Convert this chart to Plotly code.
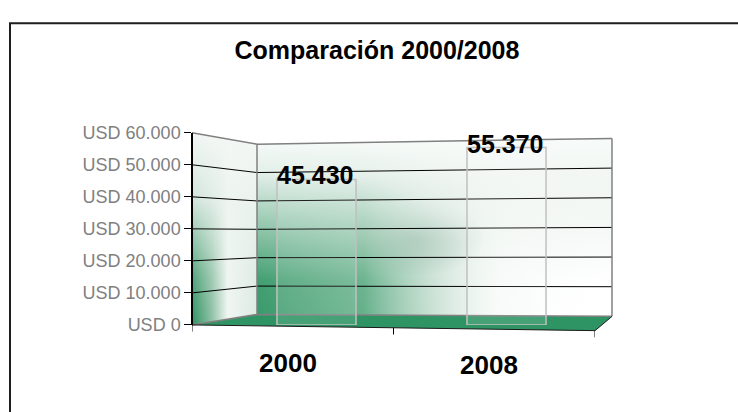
import base64
import plotly.graph_objects as go

# ---------------- data ----------------
years = ["2000", "2008"]
values = [45430, 55370]
tick_vals = [0, 10000, 20000, 30000, 40000, 50000, 60000]
tick_text = ["USD 0", "USD 10.000", "USD 20.000", "USD 30.000",
             "USD 40.000", "USD 50.000", "USD 60.000"]
title_text = "Comparación 2000/2008"

# ---------------- geometry helpers (pixels -> paper) ----------------
W, H = 738, 412
def px(x): return x / W
def py(y): return 1 - y / H

YMAX = max(tick_vals)
FRONT_X, BACK_X, RIGHT_X = 192, 257, 612
FRONT_BASE, FRONT_H = 331, 202
BACKL_BASE, BACKL_H = 320, 179
BACKR_BASE, BACKR_H = 322, 187
FLOOR_FR = (595, 337)

def yf(v): return FRONT_BASE - v / YMAX * FRONT_H
def ybl(v): return BACKL_BASE - v / YMAX * BACKL_H
def ybr(v): return BACKR_BASE - v / YMAX * BACKR_H

# ---------------- decorative walls (svg) ----------------
bw = f"{BACK_X},{ybl(YMAX)} {RIGHT_X},{ybr(YMAX)} {RIGHT_X},{ybr(0)} {BACK_X},{ybl(0)}"
lw = f"{FRONT_X},{yf(YMAX)} {BACK_X},{ybl(YMAX)} {BACK_X},{ybl(0)} {FRONT_X},{yf(0)}"
fl = f"{FRONT_X},{yf(0)} {BACK_X},{ybl(0)} {RIGHT_X},{ybr(0)} {FLOOR_FR[0]},{FLOOR_FR[1]}"
svg = f"""<svg xmlns='http://www.w3.org/2000/svg' width='{W}' height='{H}' viewBox='0 0 {W} {H}' preserveAspectRatio='none'>
<defs>
 <linearGradient id='bh' x1='{BACK_X}' y1='0' x2='{RIGHT_X}' y2='0' gradientUnits='userSpaceOnUse'>
  <stop offset='0' stop-color='#2f9563' stop-opacity='0.95'/>
  <stop offset='0.3' stop-color='#3f9d6d' stop-opacity='0.8'/>
  <stop offset='0.5' stop-color='#8fbfa5' stop-opacity='0.45'/>
  <stop offset='0.68' stop-color='#d8e9df' stop-opacity='0.2'/>
  <stop offset='1' stop-color='#ffffff' stop-opacity='0'/>
 </linearGradient>
 <linearGradient id='bv' x1='0' y1='135' x2='0' y2='322' gradientUnits='userSpaceOnUse'>
  <stop offset='0' stop-color='#f7fbf9' stop-opacity='1'/>
  <stop offset='0.2' stop-color='#f1f6f3' stop-opacity='0.92'/>
  <stop offset='0.5' stop-color='#eaf2ed' stop-opacity='0.5'/>
  <stop offset='0.8' stop-color='#eaf2ed' stop-opacity='0.05'/>
  <stop offset='1' stop-color='#eaf2ed' stop-opacity='0'/>
 </linearGradient>
 <radialGradient id='blob' cx='0.5' cy='0.5' r='0.5'>
  <stop offset='0' stop-color='#6f9d87' stop-opacity='0.55'/>
  <stop offset='1' stop-color='#6f9d87' stop-opacity='0'/>
 </radialGradient>
 <linearGradient id='lh' x1='{FRONT_X}' y1='0' x2='{BACK_X}' y2='0' gradientUnits='userSpaceOnUse'>
  <stop offset='0' stop-color='#2e9262'/>
  <stop offset='0.3' stop-color='#8bbfa3'/>
  <stop offset='0.55' stop-color='#f0f6f2'/>
  <stop offset='1' stop-color='#dbe9e1'/>
 </linearGradient>
 <linearGradient id='lv' x1='0' y1='129' x2='0' y2='331' gradientUnits='userSpaceOnUse'>
  <stop offset='0' stop-color='#f3f7f5' stop-opacity='1'/>
  <stop offset='0.35' stop-color='#eef4f0' stop-opacity='0.85'/>
  <stop offset='0.75' stop-color='#eef4f0' stop-opacity='0.2'/>
  <stop offset='1' stop-color='#eef4f0' stop-opacity='0'/>
 </linearGradient>
 <clipPath id='cb'><polygon points='{bw}'/></clipPath>
</defs>
<polygon points='{bw}' fill='#ffffff'/>
<g clip-path='url(#cb)'>
 <rect x='{BACK_X}' y='130' width='{RIGHT_X-BACK_X}' height='200' fill='url(#bh)'/>
 <ellipse cx='415' cy='240' rx='70' ry='40' fill='url(#blob)'/>
 <rect x='{BACK_X}' y='130' width='{RIGHT_X-BACK_X}' height='200' fill='url(#bv)'/>
</g>
<polygon points='{lw}' fill='url(#lh)'/>
<polygon points='{lw}' fill='url(#lv)'/>
<polygon points='{fl}' fill='#2e9464'/>
</svg>"""
svg_uri = "data:image/svg+xml;base64," + base64.b64encode(svg.encode("utf-8")).decode()

SANS = "Liberation Sans, Arial, sans-serif"

fig = go.Figure()
fig.add_trace(go.Bar(
    x=years, y=values, xaxis="x", yaxis="y",
    width=0.416,
    marker=dict(color="rgba(255,255,255,0.12)", line=dict(color="#c0c0c0", width=1.5)),
    hoverinfo="skip", showlegend=False,
))
# front (floor edge) category axis
fig.add_trace(go.Scatter(
    x=years, y=[0, 0], xaxis="x2", yaxis="y", mode="markers",
    marker=dict(opacity=0), hoverinfo="skip", showlegend=False,
))

shapes = []
for v in tick_vals:
    edge = v in (0, YMAX)
    p = (f"M {px(FRONT_X)},{py(yf(v))} L {px(BACK_X)},{py(ybl(v))} "
         f"L {px(RIGHT_X)},{py(ybr(v))}")
    shapes.append(dict(type="path", path=p, xref="paper", yref="paper",
                       line=dict(color="#808080" if edge else "#000000",
                                 width=1.5 if edge else 1), layer="below"))
shapes.append(dict(type="line", xref="paper", yref="paper",
                   x0=px(BACK_X), y0=py(ybl(YMAX)), x1=px(BACK_X), y1=py(ybl(0)),
                   line=dict(color="#808080", width=1.5), layer="below"))
shapes.append(dict(type="line", xref="paper", yref="paper",
                   x0=px(RIGHT_X), y0=py(ybr(YMAX)), x1=px(RIGHT_X), y1=py(ybr(0)),
                   line=dict(color="#808080", width=1.5), layer="below"))
shapes.append(dict(type="path", xref="paper", yref="paper",
                   path=f"M {px(FRONT_X)},{py(yf(0))} L {px(FLOOR_FR[0])},{py(FLOOR_FR[1])} L {px(RIGHT_X)},{py(ybr(0))}",
                   line=dict(color="#1a1a1a", width=1), layer="below"))
def front_edge_y(xpix):
    return yf(0) + (FLOOR_FR[1] - yf(0)) * (xpix - FRONT_X) / (FLOOR_FR[0] - FRONT_X)
for b in [-0.5 + i for i in range(len(years) + 1)]:
    xpix = FRONT_X + (b + 0.5) / len(years) * (FLOOR_FR[0] - FRONT_X)
    ye = front_edge_y(xpix)
    shapes.append(dict(type="line", xref="x2", yref="paper", x0=b, x1=b,
                       y0=py(ye), y1=py(ye + 7), line=dict(color="#000", width=1)))
shapes.append(dict(type="rect", xref="paper", yref="paper",
                   x0=px(10), y0=py(14), x1=1.1, y1=-0.1,
                   line=dict(color="#1e1e1e", width=2), layer="below"))

annotations = []
for i, v in enumerate(values):
    annotations.append(dict(
        x=i, y=v, xref="x", yref="y", text="<b>" + f"{v:,}".replace(",", ".") + "</b>",
        showarrow=False, yanchor="middle", xanchor="center", yshift=4, xshift=-2,
        font=dict(family=SANS, size=25, color="#000")))
for i, yr in enumerate(years):
    xpix = FRONT_X + (i + 0.5) / len(years) * (FLOOR_FR[0] - FRONT_X)
    annotations.append(dict(
        x=i, xref="x2", y=py(front_edge_y(xpix) + 38), yref="paper",
        text=f"<b>{yr}</b>", showarrow=False, xanchor="center", yanchor="middle",
        xshift=-5, font=dict(family=SANS, size=26, color="#000")))

fig.update_layout(
    width=W, height=H, autosize=False,
    margin=dict(l=0, r=0, t=0, b=0, pad=0),
    paper_bgcolor="#ffffff", plot_bgcolor="rgba(0,0,0,0)",
    title=dict(text=f"<b>{title_text}</b>", x=px(377), y=py(50),
               xanchor="center", yanchor="middle",
               font=dict(family=SANS, size=25, color="#000")),
    xaxis=dict(type="category", domain=[px(221.5), px(601.5)], range=[-0.5, 1.5],
               visible=False, fixedrange=True),
    xaxis2=dict(type="category", domain=[px(FRONT_X), px(FLOOR_FR[0])], range=[-0.5, 1.5],
                visible=False, anchor="y", fixedrange=True),
    yaxis=dict(domain=[py(FRONT_BASE), py(FRONT_BASE - FRONT_H)], range=[0, YMAX],
               anchor="free", position=px(FRONT_X),
               tickvals=tick_vals, ticktext=tick_text,
               ticks="outside", ticklen=7, tickcolor="#000", tickwidth=1,
               showline=True, linecolor="#000", linewidth=1.5,
               showgrid=False, zeroline=False, fixedrange=True,
               tickfont=dict(family=SANS, size=18, color="#808080")),
    images=[dict(source=svg_uri, xref="paper", yref="paper", x=0, y=1,
                 sizex=1, sizey=1, xanchor="left", yanchor="top",
                 sizing="stretch", layer="below")],
    shapes=shapes, annotations=annotations, showlegend=False,
)
fig.write_html("out.html")
